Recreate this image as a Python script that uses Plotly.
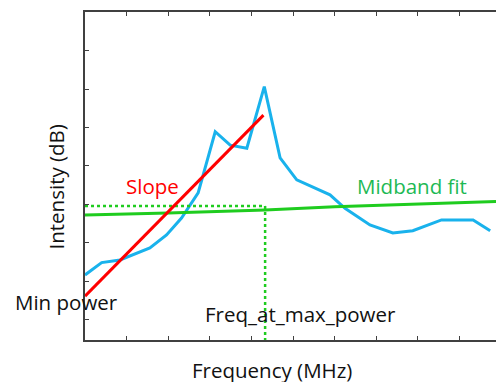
import plotly.graph_objects as go

# Measured spectrum (frequency in tick units, intensity in tick units)
freq = [0.00, 0.40, 0.84, 1.15, 1.56, 1.96, 2.32, 2.72, 3.13, 3.49, 3.89, 4.31,
        4.69, 5.09, 5.89, 6.25, 6.85, 7.40, 7.88, 8.57, 9.33, 9.74]
intensity = [1.17, 1.49, 1.56, 1.69, 1.87, 2.21, 2.65, 3.30, 4.89, 4.54, 4.46, 6.06,
             4.21, 3.64, 3.25, 2.90, 2.47, 2.26, 2.32, 2.60, 2.60, 2.32]

slope_x = [0.0, 4.29]
slope_y = [0.62, 5.32]

midband_x = [0.0, 2.0, 4.33, 6.0, 9.88]
midband_y = [2.73, 2.78, 2.86, 2.94, 3.08]

max_power_level = 2.96
freq_at_max = 4.33

x_ticks = [0, 1, 2, 3, 4, 5, 6, 7, 8, 9]
y_ticks = [0, 1, 2, 3, 4, 5, 6, 7]

FONT = "Open Sans"
FS = 20.5
BLUE = "#19B2EC"
RED = "#FF0000"
GREEN_LINE = "#1FCC1F"
GREEN_TEXT = "#1DB954"
AXIS = "#404040"

fig = go.Figure()
fig.add_trace(go.Scatter(x=freq, y=intensity, mode="lines",
                         line=dict(color=BLUE, width=3), showlegend=False))
fig.add_trace(go.Scatter(x=midband_x, y=midband_y, mode="lines",
                         line=dict(color=GREEN_LINE, width=3), showlegend=False))
fig.add_trace(go.Scatter(x=[0, freq_at_max], y=[max_power_level, max_power_level], mode="lines",
                         line=dict(color=GREEN_LINE, width=2.5, dash="dot"), showlegend=False))
fig.add_trace(go.Scatter(x=[freq_at_max, freq_at_max], y=[max_power_level, -0.56], mode="lines",
                         line=dict(color=GREEN_LINE, width=2.5, dash="dot"), showlegend=False,
                         cliponaxis=False))
fig.add_trace(go.Scatter(x=slope_x, y=slope_y, mode="lines",
                         line=dict(color=RED, width=3), showlegend=False))

# paper coordinates: plot spans x 85..496 px, y 12..340 px
def px(xp):
    return (xp - 85) / 411.0

def py(yp):
    return (340 - yp) / 328.0

ann = [
    dict(text="Slope", x=px(152), y=py(186), font=dict(color=RED)),
    dict(text="Midband fit", x=px(411.5), y=py(186), font=dict(color=GREEN_TEXT)),
    dict(text="Min power", x=px(66), y=py(302), font=dict(color="#111111")),
    dict(text="Freq_at_max_power", x=px(300.5), y=py(314), font=dict(color="#111111")),
    dict(text="Frequency (MHz)", x=px(272), y=py(370), font=dict(color="#111111")),
    dict(text="Intensity (dB)", x=px(55), y=py(187.5), textangle=-90, font=dict(color="#111111")),
]
for a in ann:
    a.update(showarrow=False, xanchor="center", yanchor="middle", xref="paper", yref="paper")
    a["font"]["family"] = FONT
    a["font"]["size"] = FS

fig.update_layout(
    width=496, height=382,
    margin=dict(l=85, r=0, t=12, b=42),
    paper_bgcolor="white", plot_bgcolor="white",
    annotations=ann,
    xaxis=dict(range=[0, 9.88], tickvals=x_ticks, showticklabels=False, showgrid=False,
               zeroline=False, showline=True, linecolor=AXIS, linewidth=2, mirror="ticks",
               ticks="inside", ticklen=4, tickcolor=AXIS, tickwidth=1),
    yaxis=dict(range=[-0.52, 8.0], tickvals=y_ticks, showticklabels=False, showgrid=False,
               zeroline=False, showline=True, linecolor=AXIS, linewidth=2,
               ticks="inside", ticklen=4, tickcolor=AXIS, tickwidth=1),
)

fig.write_html("out.html", config={"displayModeBar": False},
               post_script="document.body.style.margin='0';document.body.style.overflow='hidden';")
